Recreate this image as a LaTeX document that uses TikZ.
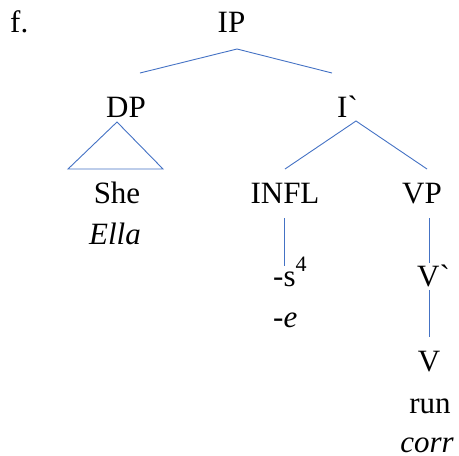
\documentclass[tikz,border=0pt]{standalone}
\usepackage{fontspec}
\setmainfont{Liberation Serif}
\newcommand{\footmark}[1]{\raisebox{15pt}{\fontsize{22}{22}\selectfont #1}}
\begin{document}
\begin{tikzpicture}[x=1pt,y=-1pt,
  lbl/.style={inner sep=0pt,anchor=base,font=\fontsize{31}{37}\selectfont},
  lblw/.style={lbl,anchor=base west},
  branch/.style={line width=0.9pt,color={rgb,255:red,68;green,114;blue,196}}]
\useasboundingbox (0,0) rectangle (459,456);

% labels
\node[lblw] (ex)   at (10,32)  {f.};
\node[lbl]  (IP)   at (231.5,32) {IP};
\node[lbl]  (DP)   at (126,117) {DP};
\node[lblw] (Ibar) at (337,117) {I\textasciigrave};
\node[lbl]  (she)  at (117,203) {She};
\node[lbl]  (ella) at (115,244) {\itshape Ella};
\node[lbl]  (INFL) at (285,203) {INFL};
\node[lbl]  (VP)   at (422,203) {VP};
\node[lblw] (s)    at (273,286) {-s\footmark{4}};
\node[lblw] (e)    at (273,327) {-\textit{e}};
\node[lblw] (Vbar) at (417,286) {V\textasciigrave};
\node[lbl]  (V)    at (429,371) {V};
\node[lbl]  (run)  at (430,413) {run};
\node[lbl,text depth=0pt] (corr) at (427,452.5) {\itshape corr};

% branch end points
\coordinate (IP-foot)   at (237,49);
\coordinate (DP-top)    at (140,73);
\coordinate (Ibar-top)  at (332,73);
\coordinate (DP-foot)   at (117,122);
\coordinate (tri-l)     at (68,169);
\coordinate (tri-r)     at (163,169);
\coordinate (Ibar-foot) at (356,121);
\coordinate (INFL-top)  at (285,169);
\coordinate (VP-top)    at (427,169);
\coordinate (INFL-foot) at (284,218);
\coordinate (s-top)     at (284,266);
\coordinate (VP-foot)   at (429,218);
\coordinate (Vbar-top)  at (429,263);
\coordinate (Vbar-foot) at (429,290);
\coordinate (V-top)     at (429,337);

% branches
\draw[branch] (DP-top) -- (IP-foot) -- (Ibar-top);
\draw[branch] (DP-foot) -- (tri-l) -- (tri-r) -- cycle;
\draw[branch] (INFL-top) -- (Ibar-foot) -- (VP-top);
\draw[branch] (INFL-foot) -- (s-top);
\draw[branch] (VP-foot) -- (Vbar-top);
\draw[branch] (Vbar-foot) -- (V-top);
\end{tikzpicture}
\end{document}
